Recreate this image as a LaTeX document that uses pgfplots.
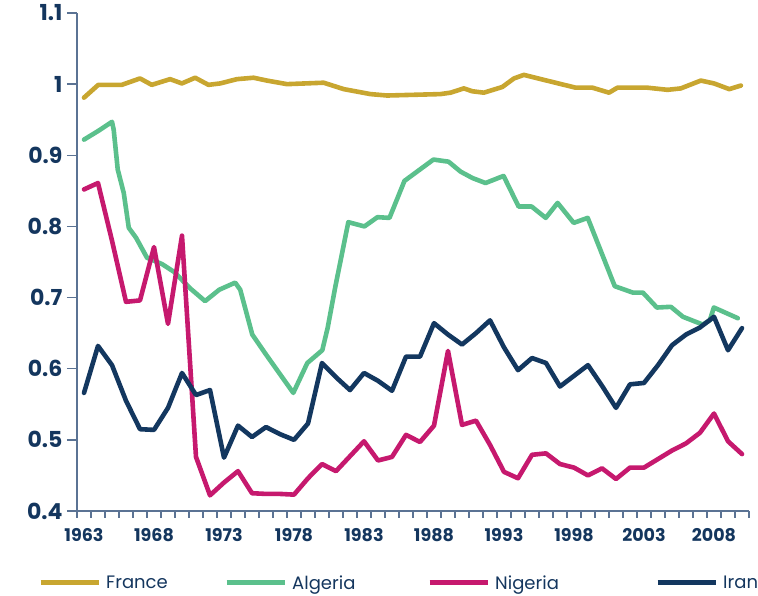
\documentclass[border=0pt]{standalone}
\usepackage{pgfplots}
\pgfplotsset{compat=1.18}
\usepackage{fontspec}
\setmainfont{Poppins}
\definecolor{francecol}{HTML}{C8A630}
\definecolor{algeriacol}{HTML}{5BC08C}
\definecolor{nigeriacol}{HTML}{C6196E}
\definecolor{irancol}{HTML}{13375F}
\definecolor{textcol}{HTML}{14365E}
\definecolor{axiscol}{HTML}{5B7394}
\begin{document}
\begin{tikzpicture}
\begin{axis}[
  at={(0,0)}, anchor=south west,
  scale only axis, width=672pt, height=498pt,
  xmin=1962.5, xmax=2010.5, ymin=0.4, ymax=1.1,
  axis lines=left,
  axis line style={-, color=axiscol, line width=1.3pt},
  tick align=outside,
  xtick={1963,1968,1973,1978,1983,1988,1993,1998,2003,2008},
  xticklabels={1963,1968,1973,1978,1983,1988,1993,1998,2003,2008},
  minor xtick={1962.5,1963.5,...,2010.5},
  ytick={0.4,0.5,0.6,0.7,0.8,0.9,1,1.1},
  yticklabels={0.4,0.5,0.6,0.7,0.8,0.9,1,1.1},
  major tick length=10pt, minor tick length=7pt,
  major x tick style={draw=none},
  tick style={color=axiscol, line width=1.3pt},
  x tick label style={font=\fontsize{17.5}{19}\selectfont\bfseries, text=textcol, yshift=-4pt},
  y tick label style={font=\fontsize{22}{24}\selectfont\bfseries, text=textcol, xshift=-1pt},
  legend style={at={(-0.0580,-0.14458)}, anchor=west, draw=none, fill=none,
    inner sep=0pt, font=\fontsize{18}{20}\selectfont, text=textcol,
    /tikz/column sep=0pt,
    /tikz/every odd column/.style={column sep=5pt},
    nodes={inner sep=0pt}},
  legend columns=4, legend cell align=left,
  legend image code/.code={\draw[#1, line width=5pt, line cap=butt] (0pt,0pt) -- (58pt,0pt);},
  every axis plot/.append style={line width=4.6pt, line join=round, line cap=round, no markers},
]
\addplot[francecol] coordinates {
(1963,0.981) (1964.02,0.999) (1965.7,0.999) (1967.0,1.008) (1967.84,0.999)
(1969.15,1.007) (1969.99,1.001) (1970.94,1.009) (1971.89,0.999) (1972.73,1.001)
(1973.92,1.007) (1975.11,1.009) (1976.07,1.005) (1977.5,1.000) (1980.12,1.002)
(1981.55,0.993) (1983.46,0.986) (1984.65,0.984) (1988.46,0.986) (1989.18,0.988)
(1990.13,0.994) (1990.73,0.990) (1991.56,0.988) (1992.88,0.996) (1993.71,1.008)
(1994.42,1.013) (1995.85,1.006) (1998.12,0.995) (1999.32,0.995) (2000.5,0.988)
(2001.1,0.995) (2003.25,0.995) (2004.68,0.992) (2005.63,0.994) (2007.06,1.005)
(2008.0,1.001) (2009.09,0.993) (2009.92,0.998)
};
\addlegendentry{\makebox[118pt][l]{France}}
\addplot[algeriacol] coordinates {
(1963,0.922) (1964,0.934) (1965,0.947) (1965.12,0.936) (1965.41,0.880)
(1965.84,0.847) (1966.2,0.798) (1966.72,0.784) (1967.5,0.756) (1968.58,0.747)
(1969.44,0.736) (1970.58,0.713) (1971.65,0.695) (1972.66,0.711) (1973.8,0.721)
(1974.16,0.711) (1975.02,0.648) (1976.0,0.620) (1977.95,0.566) (1978.95,0.608)
(1980.02,0.626) (1980.4,0.657) (1980.95,0.715) (1981.88,0.806) (1983.03,0.800)
(1983.96,0.813) (1984.82,0.812) (1985.89,0.864) (1987.96,0.894) (1989.04,0.891)
(1989.9,0.877) (1990.75,0.868) (1991.68,0.861) (1992.97,0.871) (1994.04,0.828)
(1994.97,0.828) (1995.98,0.812) (1996.83,0.833) (1997.98,0.805) (1998.98,0.812)
(2000.91,0.716) (2002.2,0.707) (2002.92,0.707) (2003.92,0.686) (2004.92,0.687)
(2005.78,0.673) (2007.2,0.662) (2007.7,0.668) (2007.99,0.686) (2009.7,0.671)
};
\addlegendentry{\makebox[135pt][l]{Algeria}}
\addplot[nigeriacol] coordinates {
(1963,0.852) (1964,0.861) (1965,0.780) (1966,0.694) (1967,0.696) (1968,0.771)
(1969,0.663) (1970,0.787) (1971,0.476) (1972,0.422) (1973,0.440) (1974,0.456)
(1975,0.425) (1976,0.424) (1977,0.424) (1978,0.423) (1979,0.446) (1980,0.466)
(1981,0.456) (1982,0.477) (1983,0.498) (1984,0.471) (1985,0.476) (1986,0.507)
(1987,0.497) (1988,0.520) (1989,0.625) (1990,0.521) (1991,0.527) (1992,0.493)
(1993,0.455) (1994,0.446) (1995,0.479) (1996,0.481) (1997,0.466) (1998,0.461)
(1999,0.450) (2000,0.460) (2001,0.445) (2002,0.461) (2003,0.461) (2004,0.473)
(2005,0.485) (2006,0.495) (2007,0.510) (2008,0.537) (2009,0.498) (2010,0.480)
};
\addlegendentry{\makebox[160pt][l]{Nigeria}}
\addplot[irancol] coordinates {
(1963,0.566) (1964,0.632) (1965,0.605) (1966,0.555) (1967,0.515) (1968,0.514)
(1969,0.545) (1970,0.594) (1971,0.563) (1972,0.570) (1973,0.475) (1974,0.520)
(1975,0.504) (1976,0.518) (1977,0.508) (1978,0.500) (1979,0.523) (1980,0.608)
(1981,0.588) (1982,0.570) (1983,0.594) (1984,0.583) (1985,0.569) (1986,0.617)
(1987,0.617) (1988,0.664) (1989,0.648) (1990,0.634) (1991,0.650) (1992,0.668)
(1993,0.630) (1994,0.598) (1995,0.615) (1996,0.608) (1997,0.575) (1998,0.590)
(1999,0.605) (2000,0.576) (2001,0.545) (2002,0.578) (2003,0.580) (2004,0.605)
(2005,0.633) (2006,0.648) (2007,0.658) (2008,0.673) (2009,0.626) (2010,0.657)
};
\addlegendentry{Iran}
\end{axis}
\pgfresetboundingbox
\useasboundingbox (-77pt,-85pt) rectangle (681pt,511pt);
\end{tikzpicture}
\end{document}
